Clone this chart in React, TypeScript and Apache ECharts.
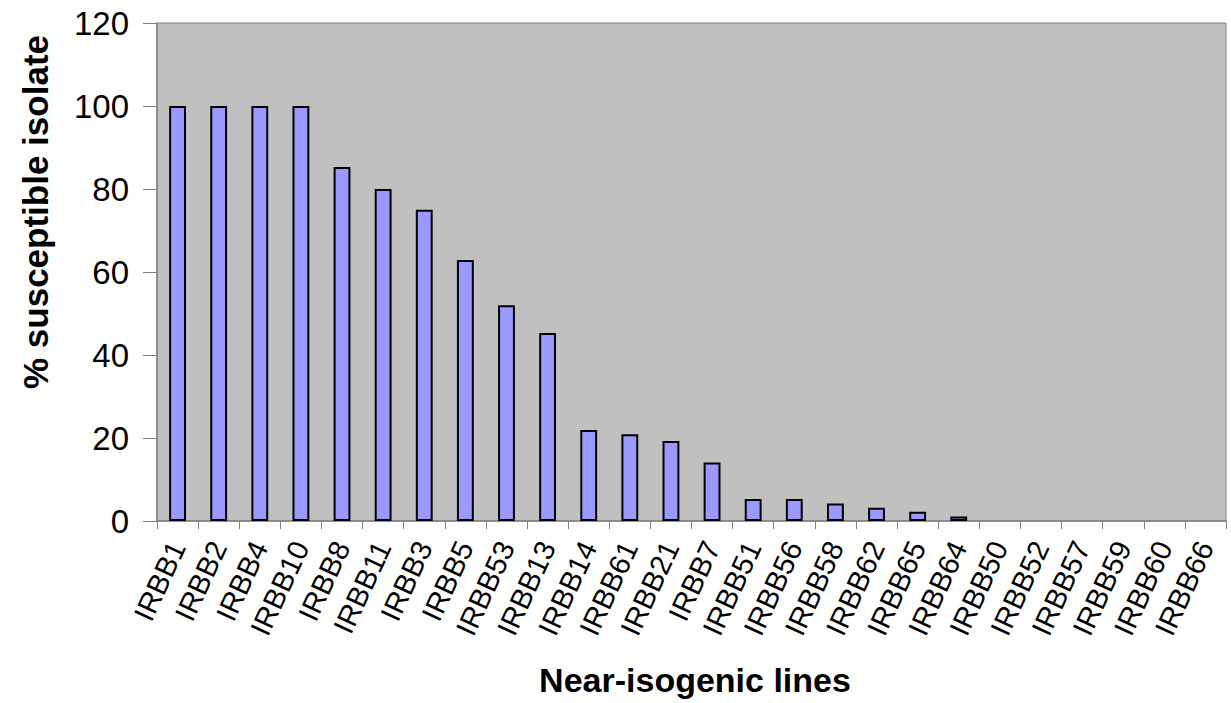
import React, { useEffect, useRef } from "react";
import * as echarts from "echarts";

const categories = [
  "IRBB1", "IRBB2", "IRBB4", "IRBB10", "IRBB8", "IRBB11", "IRBB3", "IRBB5", "IRBB53", "IRBB13",
  "IRBB14", "IRBB61", "IRBB21", "IRBB7", "IRBB51", "IRBB56", "IRBB58", "IRBB62", "IRBB65", "IRBB64",
  "IRBB50", "IRBB52", "IRBB57", "IRBB59", "IRBB60", "IRBB66",
];
const values = [
  100, 100, 100, 100, 85.3, 80, 75, 62.9, 52, 45.3,
  21.9, 20.9, 19.3, 14.1, 5.3, 5.3, 4.2, 3.2, 2.2, 1.1,
  0, 0, 0, 0, 0, 0,
];
const yTitle = "% susceptible isolate";
const xTitle = "Near-isogenic lines";

export default function App() {
  const ref = useRef<HTMLDivElement>(null);
  useEffect(() => {
    if (!ref.current) return;
    const chart = echarts.init(ref.current, null, { renderer: "svg" });
    const barData = values.map((v) =>
      v === 0 ? { value: v, itemStyle: { borderWidth: 0, opacity: 0 } } : v
    );
    chart.setOption({
      animation: false,
      backgroundColor: "#ffffff",
      textStyle: { fontFamily: "Liberation Sans, Arial, sans-serif" },
      grid: {
        left: 157,
        top: 23,
        right: 5,
        bottom: 182,
        show: true,
        backgroundColor: "#C0C0C0",
        borderColor: "#808080",
        borderWidth: 1,
      },
      xAxis: {
        type: "category",
        data: categories,
        boundaryGap: true,
        axisLine: { lineStyle: { color: "#808080", width: 1.5 } },
        axisTick: { show: true, length: 8, alignWithLabel: false, lineStyle: { color: "#808080" } },
        axisLabel: {
          rotate: 65,
          interval: 0,
          fontSize: 29,
          color: "#000",
          margin: 22,
          fontFamily: "Liberation Sans, Arial, sans-serif",
        },
      },
      yAxis: {
        type: "value",
        min: 0,
        max: 120,
        interval: 20,
        splitLine: { show: false },
        axisLine: { show: true, lineStyle: { color: "#808080", width: 1.5 } },
        axisTick: { show: true, length: 14, lineStyle: { color: "#808080" } },
        axisLabel: {
          fontSize: 33,
          color: "#000",
          margin: 28,
          fontFamily: "Liberation Sans, Arial, sans-serif",
        },
      },
      series: [
        {
          type: "bar",
          data: barData,
          barWidth: "41%",
          itemStyle: { color: "#9999FF", borderColor: "#000000", borderWidth: 2 },
        },
      ],
      graphic: [
        {
          type: "text",
          x: 35,
          y: 212,
          rotation: Math.PI / 2,
          style: {
            text: yTitle,
            font: "bold 35px Liberation Sans, Arial, sans-serif",
            fill: "#000",
            align: "center",
            verticalAlign: "middle",
          },
        },
        {
          type: "text",
          x: 695,
          y: 680,
          style: {
            text: xTitle,
            font: "bold 34px Liberation Sans, Arial, sans-serif",
            fill: "#000",
            align: "center",
            verticalAlign: "middle",
          },
        },
      ],
    });
    return () => chart.dispose();
  }, []);
  return (
    <div
      ref={ref}
      style={{ position: "fixed", left: 0, top: 0, width: 1231, height: 703 }}
    />
  );
}
